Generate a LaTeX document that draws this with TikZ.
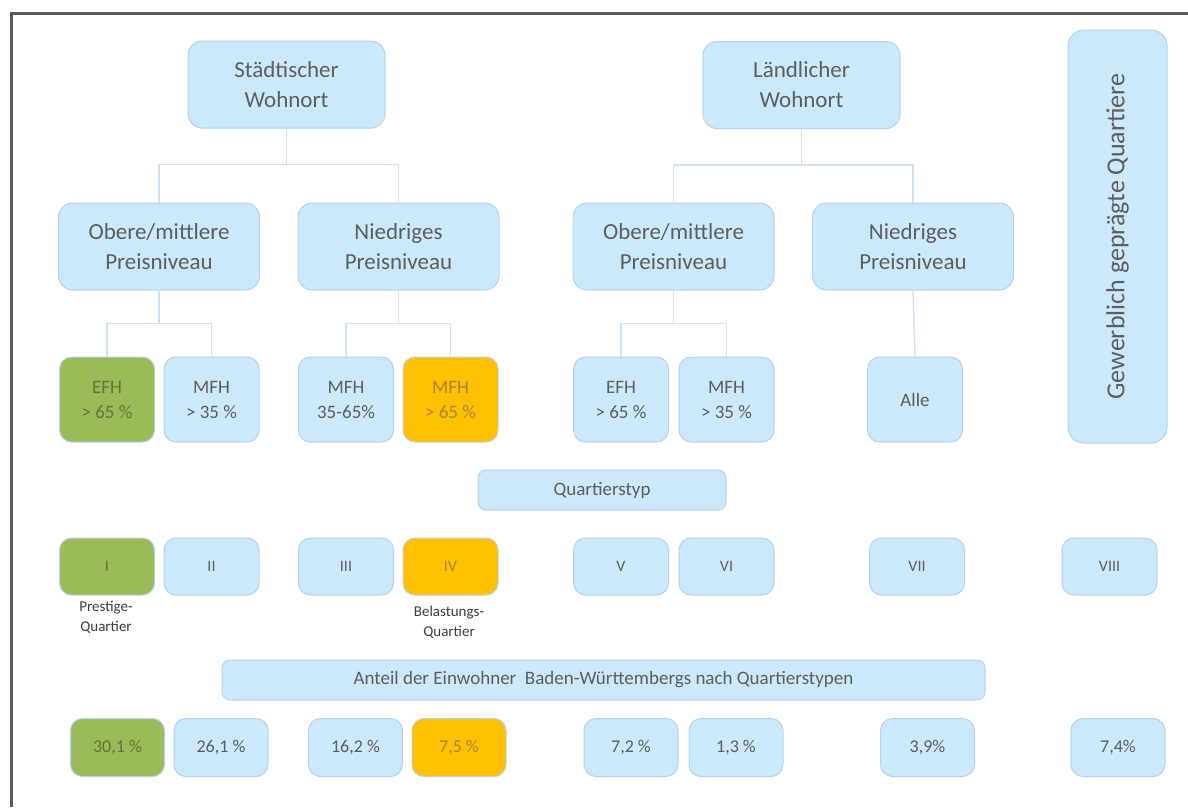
\documentclass[tikz,border=0pt]{standalone}
\usepackage{fontspec}
\setmainfont{Carlito}
\definecolor{boxfill}{HTML}{CCE8FB}
\definecolor{boxline}{HTML}{B5D3EE}
\definecolor{conn}{HTML}{CFE3F3}
\definecolor{txt}{HTML}{5E5E5E}
\definecolor{grn}{HTML}{9BBB59}
\definecolor{org}{HTML}{FFC000}
\definecolor{grntxt}{HTML}{62763C}
\definecolor{orgtxt}{HTML}{A8863A}
\definecolor{framecol}{HTML}{5A5A5A}
\definecolor{labtxt}{HTML}{3C3C3C}
\begin{document}
\begin{tikzpicture}[x=1pt,y=-1pt,
  bx/.style={draw=boxline, line width=1pt, fill=boxfill, text=txt, rounded corners=12pt, inner sep=0pt, align=center},
  topbox/.style={bx, rounded corners=14pt, minimum width=197pt, minimum height=87pt, font=\fontsize{23}{30}\selectfont},
  midbox/.style={bx, rounded corners=14pt, minimum width=201pt, minimum height=87pt, font=\fontsize{23}{30}\selectfont},
  leafbox/.style={bx, minimum width=95pt, minimum height=85pt, font=\fontsize{19}{25}\selectfont},
  typbox/.style={bx, minimum width=95pt, minimum height=57pt, font=\fontsize{16}{20}\selectfont},
  pctbox/.style={bx, minimum width=94pt, minimum height=58pt, font=\fontsize{18}{22}\selectfont},
  barbox/.style={bx, rounded corners=8pt, minimum height=40pt, font=\fontsize{19}{23}\selectfont},
  green/.style={fill=grn, text=grntxt},
  orange/.style={fill=org, text=orgtxt},
  lab/.style={text=labtxt, align=center, inner sep=0pt, font=\fontsize{15}{20}\selectfont},
  cn/.style={draw=conn, line width=1.3pt}
]
\useasboundingbox (0,0) rectangle (1188,807);
\draw[framecol, line width=3pt] (11,807) -- (11,13) -- (1188,13);

% level 1
\node[topbox] (sw) at (286.5,84.5) {Städtischer\\Wohnort};
\node[topbox] (lw) at (801.5,85) {Ländlicher\\Wohnort};
\node[bx, rounded corners=16pt, rotate=90, minimum width=413pt, minimum height=99pt,
      font=\fontsize{26}{30}\selectfont] (gq) at (1117.5,236.5) {Gewerblich geprägte Quartiere};

% level 2
\node[midbox] (o1) at (159,246.5) {Obere/mittlere\\Preisniveau};
\node[midbox] (n1) at (398.5,246.5) {Niedriges\\Preisniveau};
\node[midbox] (o2) at (673.5,246.5) {Obere/mittlere\\Preisniveau};
\node[midbox] (n2) at (913,246.5) {Niedriges\\Preisniveau};

% level 3
\node[leafbox, green] (efh1) at (107,399.5) {EFH\\> 65 \%};
\node[leafbox] (mfh1) at (211.5,399.5) {MFH\\> 35 \%};
\node[leafbox] (mfh2) at (346,399.5) {MFH\\35-65\%};
\node[leafbox, orange] (mfh3) at (450.5,399.5) {MFH\\> 65 \%};
\node[leafbox] (efh2) at (621,399.5) {EFH\\> 65 \%};
\node[leafbox] (mfh4) at (726.5,399.5) {MFH\\> 35 \%};
\node[leafbox] (alle) at (915,399.5) {Alle};

% connectors
\draw[cn] (sw.south) -- ++(0,36) coordinate (h1);
\draw[cn] (o1.north) |- (h1) -| (n1.north);
\draw[cn] (lw.south) -- ++(0,36) coordinate (h2);
\draw[cn] (o2.north) |- (h2) -| (n2.north);
\draw[cn] (o1.south) -- ++(0,33) coordinate (h3);
\draw[cn] (efh1.north) |- (h3) -| (mfh1.north);
\draw[cn] (n1.south) -- ++(0,33) coordinate (h4);
\draw[cn] (mfh2.north) |- (h4) -| (mfh3.north);
\draw[cn] (o2.south) -- ++(0,33) coordinate (h5);
\draw[cn] (efh2.north) |- (h5) -| (mfh4.north);
\draw[cn] (n2.south) -- (alle.north);

% Quartierstyp
\node[barbox, minimum width=248pt] (qt) at (602,490) {Quartierstyp};

\node[typbox, green] (t1) at (107,566.5) {I};
\node[typbox] (t2) at (211.5,566.5) {II};
\node[typbox] (t3) at (346,566.5) {III};
\node[typbox, orange] (t4) at (450.5,566.5) {IV};
\node[typbox] (t5) at (621,566.5) {V};
\node[typbox] (t6) at (726.5,566.5) {VI};
\node[typbox] (t7) at (917,566.5) {VII};
\node[typbox] (t8) at (1109.5,566.5) {VIII};

\node[lab] (l1) at (106,617) {Prestige-\\Quartier};
\node[lab] (l4) at (449,622) {Belastungs-\\Quartier};

% Anteil
\node[barbox, minimum width=763pt] (an) at (603.5,680) {Anteil der Einwohner\ \ Baden-Württembergs nach Quartierstypen};

\node[pctbox, green] (p1) at (117.5,747.5) {30,1 \%};
\node[pctbox] (p2) at (221,747.5) {26,1 \%};
\node[pctbox] (p3) at (355.5,747.5) {16,2 \%};
\node[pctbox, orange] (p4) at (459,747.5) {7,5 \%};
\node[pctbox] (p5) at (631,747.5) {7,2 \%};
\node[pctbox] (p6) at (736,747.5) {1,3 \%};
\node[pctbox] (p7) at (927.5,747.5) {3,9\%};
\node[pctbox] (p8) at (1118,747.5) {7,4\%};
\end{tikzpicture}
\end{document}
